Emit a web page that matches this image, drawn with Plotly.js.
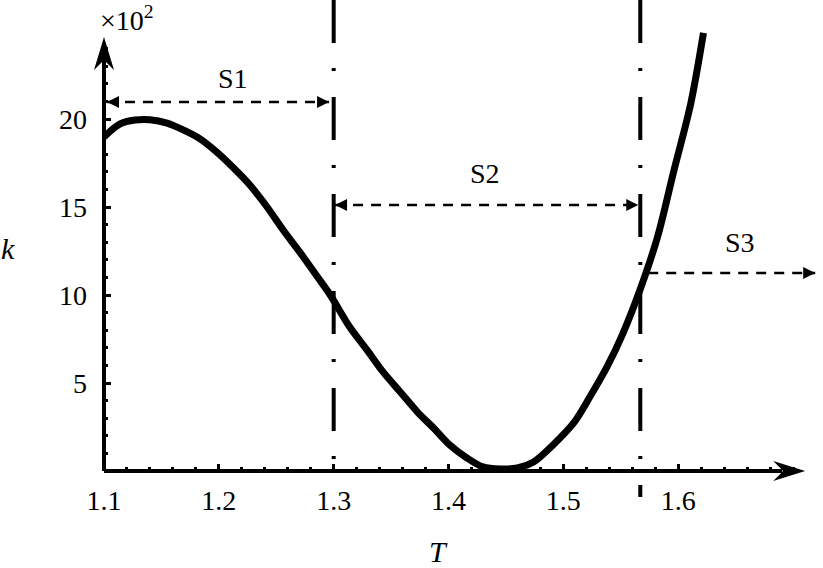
<!DOCTYPE html>
<html>
<head>
<meta charset="utf-8">
<script src="https://cdn.plot.ly/plotly-3.0.1.min.js"></script>
<style>
  html, body { margin: 0; padding: 0; background: #fff; }
  #plot { width: 823px; height: 568px; }
</style>
</head>
<body>
<div id="plot"></div>
<script>
// k(T), k in units of 10^2
const tVals = [1.100, 1.114, 1.127, 1.140, 1.155, 1.169, 1.184, 1.198, 1.212,
               1.227, 1.242, 1.256, 1.271, 1.286, 1.297, 1.314, 1.329, 1.343, 1.358,
               1.373, 1.387, 1.401, 1.416, 1.430, 1.445, 1.460, 1.474, 1.491, 1.509,
               1.523, 1.538, 1.552, 1.567, 1.582, 1.596, 1.611, 1.622];
const kVals = [18.98, 19.72, 19.94, 19.96, 19.77, 19.38, 18.86, 18.13, 17.27,
               16.25, 15.0, 13.69, 12.39, 11.02, 10.0, 8.18, 6.88, 5.63, 4.49,
               3.35, 2.44, 1.48, 0.74, 0.23, 0.11, 0.17, 0.51, 1.48, 2.73,
               4.20, 5.91, 7.84, 10.34, 13.30, 17.0, 20.9, 24.89];

const xTicks = [1.1, 1.2, 1.3, 1.4, 1.5, 1.6];
const yTicks = [5, 10, 15, 20];

// boundaries between the S1 / S2 / S3 regions
const bounds = [1.3, 1.567];

// interval arrows (tip positions)
const s1T = [1.1026, 1.296];  const s1K = [20.97, 20.97];
const s2T = [1.3012, 1.5652]; const s2K = [15.11, 15.11];
const s3T = [1.5739, 1.7193]; const s3K = [11.25, 11.25];

const labels = [
  {text: "S1", t: 1.212, k: 22.3},
  {text: "S2", t: 1.432, k: 16.9},
  {text: "S3", t: 1.654, k: 13.0}
];

const xMax = 1.72, yMax = 25;
const xTip = 1.7106, yTip = 24.66;   // axis arrow tips

const FONT = "Liberation Serif, DejaVu Serif, serif";

function dashed(xs, ys){
  return {
    type: "scatter", mode: "lines", x: xs, y: ys,
    line: {color: "#000", width: 2.5, dash: "10px,8px"},
    hoverinfo: "skip"
  };
}

const curve = {
  type: "scatter", mode: "lines", x: tVals, y: kVals,
  line: {color: "#000", width: 7, shape: "spline", smoothing: 0.9},
  hoverinfo: "skip"
};

// arrow heads of the interval arrows
const heads = {
  type: "scatter", mode: "markers",
  x: [s1T[0], s1T[1], s2T[0], s2T[1], s3T[1]],
  y: [s1K[0], s1K[1], s2K[0], s2K[1], s3K[1]],
  marker: {
    symbol: ["arrow-left", "arrow-right", "arrow-left", "arrow-right", "arrow-right"],
    size: 12, color: "#000", line: {width: 0}
  },
  cliponaxis: false,
  hoverinfo: "skip"
};

const shapes = [];
// dash-dot boundaries, running past the top of the plot
bounds.forEach((b, i) => {
  shapes.push({
    type: "line", xref: "x", yref: "paper",
    x0: b, x1: b, y0: 1.0705, y1: i === 0 ? 0.007 : -0.059,
    line: {color: "#000", width: 4, dash: "43px,25px,3px,26px"}
  });
});
// axes with arrows
shapes.push({type: "line", xref: "x", yref: "paper", x0: 1.1, x1: xTip - 0.02, y0: 0, y1: 0,
             line: {color: "#000", width: 4}});
shapes.push({type: "line", xref: "paper", yref: "y", x0: 0, x1: 0, y0: 0, y1: yTip - 1.2,
             line: {color: "#000", width: 4}});
shapes.push({type: "path", xref: "x", yref: "paper", xsizemode: "pixel", ysizemode: "pixel",
             xanchor: xTip, yanchor: 0, path: "M0,0 L-32,10 L-22,0 L-32,-10 Z",
             fillcolor: "#000", line: {width: 0}});
shapes.push({type: "path", xref: "paper", yref: "y", xsizemode: "pixel", ysizemode: "pixel",
             xanchor: 0, yanchor: yTip, path: "M0,0 L-10,-33 L0,-23 L10,-33 Z",
             fillcolor: "#000", line: {width: 0}});

const annotations = labels.map(l => ({
  x: l.t, y: l.k, xref: "x", yref: "y", text: l.text, showarrow: false,
  xanchor: "center", yanchor: "middle",
  font: {family: FONT, size: 28, color: "#000"}
}));
annotations.push({x: 1.12, y: 1.028, xref: "x", yref: "paper", text: "×10<sup>2</sup>",
  xanchor: "center", yanchor: "middle", showarrow: false,
  font: {family: FONT, size: 28, color: "#000"}});
annotations.push({x: -0.135, y: 12.67, xref: "paper", yref: "y", text: "<i>k</i>",
  xanchor: "center", yanchor: "middle", showarrow: false,
  font: {family: FONT, size: 30, color: "#000"}});
annotations.push({x: 1.391, y: -0.184, xref: "x", yref: "paper", text: "<i>T</i>",
  xanchor: "center", yanchor: "middle", showarrow: false,
  font: {family: FONT, size: 30, color: "#000"}});

const layout = {
  width: 823, height: 568,
  margin: {l: 104, r: 7, t: 31, b: 97},
  paper_bgcolor: "#fff", plot_bgcolor: "#fff",
  showlegend: false,
  font: {family: FONT, color: "#000"},
  xaxis: {
    range: [1.1, xMax], showgrid: false, zeroline: false, showline: false,
    tickvals: xTicks, ticktext: xTicks.map(v => v.toFixed(1)),
    ticks: "inside", ticklen: 7, tickwidth: 3, tickcolor: "#000",
    ticklabelstandoff: 10,
    tickfont: {family: FONT, size: 28, color: "#000"},
    minor: {ticks: "inside", tick0: 1.1, dtick: 0.02, ticklen: 4, tickwidth: 3, tickcolor: "#000", showgrid: false}
  },
  yaxis: {
    range: [0, yMax], showgrid: false, zeroline: false, showline: false,
    tickvals: yTicks, ticktext: yTicks.map(String),
    ticks: "inside", ticklen: 7, tickwidth: 3, tickcolor: "#000",
    ticklabelstandoff: 16,
    tickfont: {family: FONT, size: 28, color: "#000"},
    minor: {ticks: "inside", tick0: 0, dtick: 1, ticklen: 4, tickwidth: 3, tickcolor: "#000", showgrid: false}
  },
  shapes: shapes,
  annotations: annotations
};

Plotly.newPlot("plot",
  [dashed(s1T, s1K), dashed(s2T, s2K), dashed(s3T, s3K), curve, heads],
  layout, {staticPlot: true});
</script>
</body>
</html>
